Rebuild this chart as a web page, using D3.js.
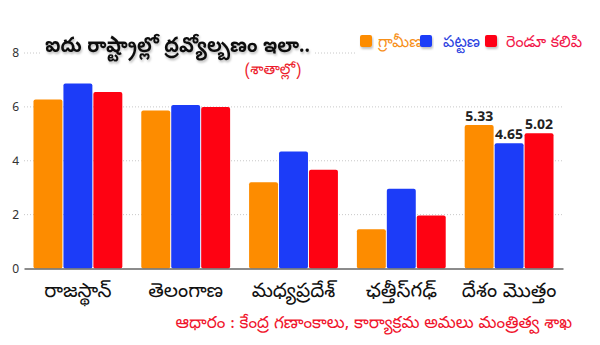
<!DOCTYPE html>
<html><head><meta charset="utf-8">
<script src="https://cdn.jsdelivr.net/npm/d3@7"></script>
<style>
html,body{margin:0;padding:0;background:#fff;}
text{font-family:"Noto Sans Telugu","Lohit Telugu","Pothana2000","Gautami","Noto Sans",sans-serif;}
</style></head>
<body><svg id="c" width="600" height="345"></svg>
<script>
const categories = ["రాజస్థాన్", "తెలంగాణ", "మధ్యప్రదేశ్", "ఛత్తీస్‌గఢ్", "దేశం మొత్తం"];
const seriesNames = ["గ్రామీణ", "పట్టణ", "రెండూ కలిపి"];
const rural = [6.27, 5.87, 3.2, 1.46, 5.33];
const urban = [6.87, 6.07, 4.34, 2.96, 4.65];
const combined = [6.55, 6.0, 3.67, 1.97, 5.02];
const yTicks = [0, 2, 4, 6, 8];
const labelledCategory = "దేశం మొత్తం";
const title = "ఐదు రాష్ట్రాల్లో ద్రవ్యోల్బణం ఇలా..";
const subtitle = "(శాతాల్లో)";
const source = "ఆధారం : కేంద్ర గణాంకాలు, కార్యాక్రమ అమలు మంత్రిత్వ శాఖ";

const colors = ["#fd8c00", "#1c3cf8", "#fe0212"];
const textColors = ["#f7901a", "#2b3fe0", "#f2174a"];
const series = [rural, urban, combined];

const svg = d3.select("#c");
const defs = svg.append("defs");
const f = defs.append("filter").attr("id", "sh").attr("x", "-10%").attr("y", "-30%").attr("width", "120%").attr("height", "160%");
f.append("feDropShadow").attr("dx", 1).attr("dy", 2).attr("stdDeviation", 1.2).attr("flood-color", "#000").attr("flood-opacity", 0.25);

const x0 = d3.scaleBand().domain(categories).range([24, 563]).paddingInner(1/6).paddingOuter(1/12);
const x1 = d3.scaleBand().domain(d3.range(3)).range([0, x0.bandwidth()]);
const y = d3.scaleLinear().domain([0, 8]).range([268.5, 53]);

// gridlines
svg.append("g").selectAll("line").data(yTicks.filter(d => d > 0)).join("line")
  .attr("x1", 24).attr("x2", 563)
  .attr("y1", d => y(d)).attr("y2", d => y(d))
  .attr("stroke", "#c8c8c8").attr("stroke-width", 1).attr("stroke-dasharray", "1,2");

// y axis
const yAxis = d3.axisLeft(y).tickValues(yTicks).tickSize(0).tickPadding(5);
const ya = svg.append("g").attr("transform", "translate(24,0)").call(yAxis);
ya.select(".domain").remove();
ya.selectAll("text").attr("font-family", "Roboto, 'Noto Sans', sans-serif").attr("font-size", 12).attr("fill", "#333");

// bars
const groups = svg.append("g").selectAll("g").data(categories).join("g")
  .attr("transform", d => `translate(${x0(d)},0)`);
groups.selectAll("rect").data((d, i) => series.map((s, k) => ({k, v: s[i], cat: d}))).join("rect")
  .attr("x", d => x1(d.k) + 0.5).attr("width", x1.bandwidth() - 1)
  .attr("y", d => y(d.v)).attr("height", d => y(0) - y(d.v))
  .attr("rx", 2)
  .attr("fill", d => colors[d.k]);

// value labels
groups.filter(d => d === labelledCategory).selectAll("text.v")
  .data((d, i) => series.map((s, k) => ({k, v: s[categories.indexOf(d)]}))).join("text")
  .attr("class", "v")
  .attr("x", d => x1(d.k) + x1.bandwidth() / 2).attr("y", d => y(d.v) - 4)
  .attr("text-anchor", "middle").attr("font-size", 14).attr("font-weight", "bold")
  .attr("font-family", "Roboto, 'Noto Sans', sans-serif").attr("fill", "#222")
  .text(d => d.v.toFixed(2));

// x axis
const xAxis = d3.axisBottom(x0).tickSize(0).tickPadding(10);
const xa = svg.append("g").attr("transform", `translate(0,${y(0)})`).call(xAxis);
xa.select(".domain").attr("stroke", "#666").attr("stroke-width", 1.5);
xa.selectAll("text").attr("font-size", 20).attr("fill", "#111").attr("dy", "0.9em");

// title
const tg = svg.append("g");
tg.append("rect").attr("x", 42).attr("y", 28).attr("width", 272).attr("height", 30).attr("fill", "#fff");
tg.append("text").attr("x", 45).attr("y", 52).attr("font-size", 21).attr("font-weight", "bold").attr("fill", "#111")
  .attr("textLength", 265).attr("lengthAdjust", "spacingAndGlyphs")
  .attr("filter", "url(#sh)").text(title);
svg.append("text").attr("x", 273).attr("y", 74).attr("text-anchor", "middle").attr("font-size", 15).attr("fill", "#ec1c2c").text(subtitle);

// legend
const legX = [360, 420, 485];
const legOff = [18, 23, 21];
const lg = svg.append("g");
lg.append("rect").attr("x", 355).attr("y", 28).attr("width", 230).attr("height", 26).attr("fill", "#fff");
seriesNames.forEach((n, k) => {
  lg.append("rect").attr("x", legX[k]).attr("y", 35).attr("width", 12).attr("height", 12).attr("rx", 2).attr("fill", colors[k]).attr("filter", "url(#sh)");
  lg.append("text").attr("x", legX[k] + legOff[k]).attr("y", 47).attr("font-size", 16).attr("fill", textColors[k]).text(n);
});

// source
svg.append("text").attr("x", 572).attr("y", 328).attr("text-anchor", "end").attr("font-size", 17).attr("fill", "#f0142c").text(source);
</script></body></html>
